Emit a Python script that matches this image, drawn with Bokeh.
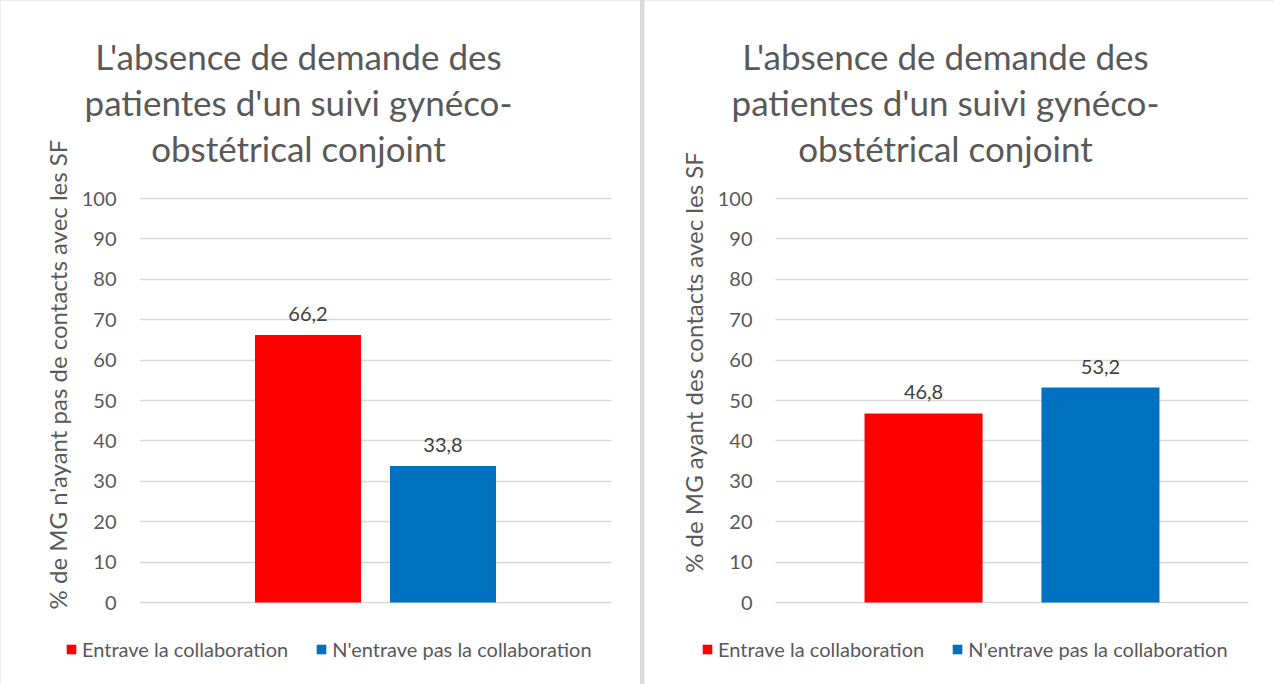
import math
from bokeh.plotting import figure
from bokeh.models import Range1d, Label
from bokeh.layouts import row
from bokeh.embed import file_html
from bokeh.resources import INLINE
from bokeh.core.properties import value

# ---------------- data ----------------
TITLE_LINES = ["L'absence de demande des",
               "patientes d'un suivi gynéco-",
               "obstétrical conjoint"]
SERIES = ["Entrave la collaboration", "N'entrave pas la collaboration"]
LEFT_VALUES = [66.2, 33.8]
RIGHT_VALUES = [46.8, 53.2]
LEFT_YLABEL = "% de MG n'ayant pas de contacts avec les SF"
RIGHT_YLABEL = "% de MG ayant des contacts avec les SF"
Y_TICKS = [0, 10, 20, 30, 40, 50, 60, 70, 80, 90, 100]

# ---------------- style ----------------
COLORS = ["#FF0000", "#0070C0"]
FONT = "Lato"
TXT = "#595959"
GRID = "#D9D9D9"
FIG_H = 684
PLOT_TOP, PLOT_BOTTOM = 198, 602          # pixel rows of 100 and 0
PX_PER_UNIT = (PLOT_BOTTOM - PLOT_TOP) / 100.0


def make_panel(values, ylabel, width, plot_left, plot_right, half_gap, bar_w,
               title_cx, ylab_cx, ylab_cy, legend_x):
    plot_w = plot_right - plot_left

    # helpers converting pixel targets into data coordinates
    def X(px):
        return (px - plot_left) / plot_w

    def Y(py):
        return (PLOT_BOTTOM - py) / PX_PER_UNIT

    p = figure(width=width, height=FIG_H,
               x_range=Range1d(X(0), X(width)),
               y_range=Range1d(Y(FIG_H), Y(0)),
               output_backend="svg", toolbar_location=None,
               min_border_left=0, min_border_right=0, min_border_top=0,
               min_border_bottom=0, outline_line_color=None,
               background_fill_color="white", border_fill_color="white")

    center = 0.5
    offsets = [-half_gap, half_gap]
    for i, (v, c, name) in enumerate(zip(values, COLORS, SERIES)):
        xs = center + offsets[i]
        p.vbar(x=[xs], top=[v], bottom=0, width=bar_w, fill_color=c,
               line_color=None, legend_label=name)
        p.text(x=[xs], y=[v], text=[f"{v:.1f}".replace(".", ",")],
               y_offset=-21, text_align="center", text_baseline="middle",
               text_font=value(FONT), text_font_size="20px",
               text_color="#404040")

    # axes / grid
    p.xaxis.visible = False
    p.xgrid.visible = False
    ax = p.yaxis[0]
    ax.fixed_location = 0
    ax.ticker = Y_TICKS
    ax.bounds = (0, 100)
    ax.axis_line_color = None
    ax.major_tick_line_color = None
    ax.minor_tick_line_color = None
    ax.major_tick_out = 0
    ax.major_tick_in = 0
    ax.major_label_standoff = 23
    ax.major_label_text_font = FONT
    ax.major_label_text_font_size = "20px"
    ax.major_label_text_color = TXT
    g = p.ygrid[0]
    g.ticker = Y_TICKS
    g.bounds = (0, 100)
    g.cross_bounds = (0, 1)
    g.grid_line_color = GRID
    g.grid_line_width = 1.5

    # chart title (three lines)
    for t, py in zip(TITLE_LINES, [55, 101, 147]):
        p.add_layout(Label(x=X(title_cx), y=Y(py), text=t,
                           text_align="center", text_baseline="middle",
                           text_font=FONT, text_font_size="35px",
                           text_color=TXT))

    # y axis title
    p.add_layout(Label(x=X(ylab_cx), y=Y(ylab_cy), text=ylabel,
                       angle=math.pi / 2, text_align="center",
                       text_baseline="middle", text_font=FONT,
                       text_font_size="24px", text_color=TXT))

    # legend
    lg = p.legend[0]
    lg.orientation = "horizontal"
    lg.location = (legend_x, 23)
    lg.glyph_width = 12
    lg.glyph_height = 12
    lg.label_standoff = 5
    lg.spacing = 27
    lg.padding = 0
    lg.margin = 0
    lg.border_line_color = None
    lg.background_fill_alpha = 0
    lg.label_text_font = FONT
    lg.label_text_font_size = "20px"
    lg.label_text_color = TXT
    return p


p1 = make_panel(LEFT_VALUES, LEFT_YLABEL, 640, 139, 611, 0.143, 0.2246,
                title_cx=298, ylab_cx=57, ylab_cy=374, legend_x=65)
p2 = make_panel(RIGHT_VALUES, RIGHT_YLABEL, 630, 131, 604, 0.187, 0.2495,
                title_cx=301, ylab_cx=49, ylab_cy=362, legend_x=57)

layout = row(p1, p2, spacing=4, styles={"background-color": GRID})
open("out.html", "w").write(file_html(layout, INLINE))
